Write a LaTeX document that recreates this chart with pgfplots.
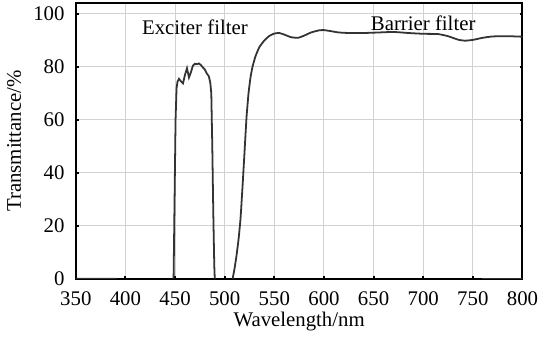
\documentclass[border=0pt]{standalone}
\usepackage{fontspec}
\setmainfont{Liberation Serif}
\usepackage{pgfplots}
\pgfplotsset{compat=1.18}
\begin{document}
\fontsize{10.5}{12}\selectfont
\begin{tikzpicture}
\begin{axis}[
 scale only axis, width=225.5pt, height=139pt,
 xmin=350, xmax=800, ymin=0, ymax=104,
 xtick={350,400,...,800}, ytick={0,20,...,100},
 grid=major, grid style={gray!35, line width=0.5pt},
 axis line style={line width=1pt},
 tick style={black, line width=1pt}, major tick length=1.5pt,
 xtick pos=bottom, ytick pos=both, tick align=inside,
 xlabel={Wavelength/nm}, ylabel={Transmittance/\%},
 /pgf/number format/assume math mode=true,
 /pgf/number format/set thousands separator={},
 tick label style={font=\fontsize{10.5}{12}\selectfont},
 xticklabel style={yshift=-3pt},
 yticklabel style={xshift=-2pt},
 label style={font=\fontsize{10.5}{12}\selectfont},
 xlabel style={yshift=4pt},
 ylabel style={yshift=-1pt},
 unbounded coords=jump,
]
\addplot[black!80, line width=0.9pt] coordinates {
 (350,0) (391,0) (nan,nan)
 (448.5,0) (449.5,30) (450.5,60) (451.5,72) (452.5,74.5) (454,75.5) (456,74.5) (458,73.8)
 (460,77) (462,79.5) (464,76) (466,78) (468,80.5) (470,81.2) (472,81) (474,81.3)
 (476,80.7) (478,79.8) (480,79) (482,77.5) (484,76.5) (485.5,74) (486.5,70)
 (487.5,50) (488.5,25) (489.5,5) (490,0)
};
\addplot[black!80, line width=0.9pt, smooth, tension=0.3] coordinates {
 (508,0) (510,4) (512,9) (514,15) (516,23) (518,35) (520,48) (522,61) (524,70)
 (526,76) (528,80) (531,84) (535,87.5) (540,90) (545,91.7) (550,92.6) (555,92.8)
 (560,92.2) (567,91.2) (574,91) (580,91.8) (587,93) (595,93.8) (600,93.9) (607,93.5)
 (615,93) (625,92.8) (640,92.8) (655,93) (670,93.2) (685,92.8) (700,92.5) (715,92.4)
 (725,91.6) (735,90.3) (742,89.9) (750,90.2) (760,91) (770,91.5) (785,91.6) (800,91.4)
};
\addplot[black!80, line width=0.9pt] coordinates {(759,0) (800,0)};
\node at (axis cs:470,95) {Exciter filter};
\node at (axis cs:700,96.5) {Barrier filter};
\end{axis}
\end{tikzpicture}
\end{document}
